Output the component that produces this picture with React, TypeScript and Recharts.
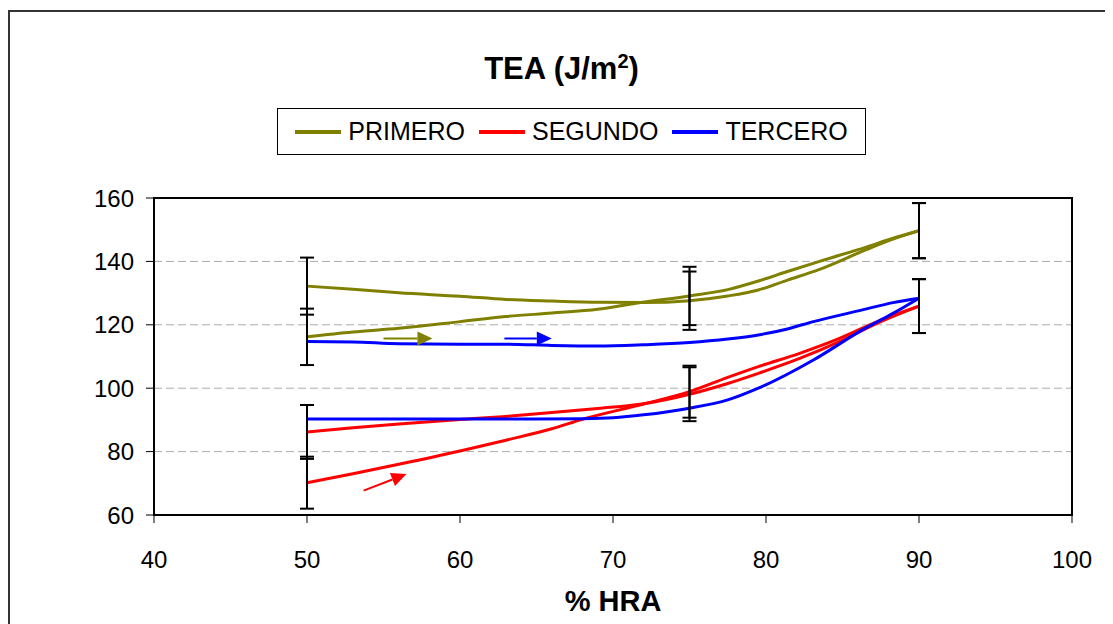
import React from 'react';
import {
  LineChart,
  Line,
  XAxis,
  YAxis,
  CartesianGrid,
  ErrorBar,
  ReferenceArea,
  ReferenceLine,
  Legend
} from 'recharts';

const FONT = '"Liberation Sans", Arial, Helvetica, sans-serif';

const seriesNames = ['PRIMERO', 'SEGUNDO', 'TERCERO'];
const seriesColors = ['#808000', '#ff0000', '#0000ff'];

const xTicks = [40, 50, 60, 70, 80, 90, 100];
const yTicks = [60, 80, 100, 120, 140, 160];

// HR values where the error bars sit
const errHR = [50, 75, 90];

// PRIMERO - branch starting low (arrow)
const primeroLowHR = [50, 53, 56, 60, 63, 66, 69, 71.5, 75, 77.5, 79.5, 81.4, 83.5, 86.6, 88.3, 90];
const primeroLowTEA = [116.2, 117.7, 118.9, 121.0, 122.6, 123.7, 124.9, 126.8, 129.1, 131.1, 133.8, 136.8, 140.0, 144.6, 147.3, 149.7];
const primeroLowErr = [8.9, 9.2, 8.7];

// PRIMERO - branch starting high
const primeroHighHR = [50, 53, 56, 60, 63, 66, 69.2, 72, 75, 77.5, 79.5, 81.4, 83.5, 86.6, 88.3, 90];
const primeroHighTEA = [132.2, 131.2, 130.1, 129.0, 128.0, 127.5, 127.1, 127.0, 127.6, 129.1, 131.0, 134.1, 137.5, 143.8, 147.0, 149.7];
const primeroHighErr = [9.0, 9.2, 8.7];

// SEGUNDO - branch starting low (arrow)
const segundoLowHR = [50, 53, 56, 60, 63, 66, 68, 72, 75, 77.5, 79.5, 82.2, 84.8, 87.5, 90];
const segundoLowTEA = [70.2, 73.0, 76.0, 80.2, 83.6, 87.2, 90.2, 95.0, 98.9, 103.4, 106.8, 111.0, 115.7, 121.5, 125.9];
const segundoLowErr = [8.2, 8.2, 8.5];

// SEGUNDO - branch starting high
const segundoHighHR = [50, 53, 56, 60, 63, 66, 69, 72, 75, 77.5, 79.5, 82.2, 84.8, 87.5, 90];
const segundoHighTEA = [86.2, 87.5, 88.7, 90.1, 91.1, 92.3, 93.6, 95.1, 98.1, 101.5, 104.7, 109.4, 114.7, 121.0, 125.9];
const segundoHighErr = [8.5, 8.5, 8.5];

// TERCERO - upper branch (arrow)
const terceroHighHR = [50, 53, 56, 60, 63, 66, 69, 72, 75, 77.5, 79.5, 81.4, 83.1, 86.3, 88.3, 90];
const terceroHighTEA = [114.7, 114.6, 114.0, 113.9, 113.9, 113.5, 113.3, 113.7, 114.4, 115.5, 116.8, 118.7, 121.0, 124.7, 127.0, 128.4];

// TERCERO - lower branch
const terceroLowHR = [50, 55, 60, 65, 68, 70, 72, 75, 77.5, 79.5, 83.1, 86.3, 88.3, 90];
const terceroLowTEA = [90.3, 90.3, 90.3, 90.3, 90.4, 90.7, 91.6, 93.7, 96.3, 100.0, 108.9, 118.4, 123.6, 128.4];

// direction arrows [x, y] in data units
const arrowFrom = [[55.0, 115.7], [53.7, 67.7], [62.9, 115.7]];
const arrowTo = [[58.2, 115.7], [56.5, 72.9], [66.0, 115.7]];

const toPoints = (hr: number[], tea: number[], err?: number[]) =>
  hr.map((x, i) => {
    const k = err ? errHR.indexOf(x) : -1;
    return { x, y: tea[i], err: k >= 0 && err ? err[k] : null };
  });

const branches = [
  { key: 'p-low', color: seriesColors[0], name: seriesNames[0], data: toPoints(primeroLowHR, primeroLowTEA, primeroLowErr) },
  { key: 'p-high', color: seriesColors[0], name: '', data: toPoints(primeroHighHR, primeroHighTEA, primeroHighErr) },
  { key: 's-low', color: seriesColors[1], name: seriesNames[1], data: toPoints(segundoLowHR, segundoLowTEA, segundoLowErr) },
  { key: 's-high', color: seriesColors[1], name: '', data: toPoints(segundoHighHR, segundoHighTEA, segundoHighErr) },
  { key: 't-high', color: seriesColors[2], name: seriesNames[2], data: toPoints(terceroHighHR, terceroHighTEA) },
  { key: 't-low', color: seriesColors[2], name: '', data: toPoints(terceroLowHR, terceroLowTEA) }
];

const ArrowShape = (p: any) => {
  const { x1, y1, x2, y2, stroke } = p;
  const dx = x2 - x1;
  const dy = y2 - y1;
  const len = Math.hypot(dx, dy) || 1;
  const ux = dx / len;
  const uy = dy / len;
  const hl = 15;
  const hw = 7;
  const bx = x2 - ux * hl;
  const by = y2 - uy * hl;
  return (
    <g>
      <line x1={x1} y1={y1} x2={bx} y2={by} stroke={stroke} strokeWidth={2} />
      <polygon
        points={`${x2},${y2} ${bx - uy * hw},${by + ux * hw} ${bx + uy * hw},${by - ux * hw}`}
        fill={stroke}
      />
    </g>
  );
};

const LegendBox = () => (
  <div
    style={{
      boxSizing: 'border-box',
      width: 589,
      height: 47,
      border: '1px solid #000',
      display: 'flex',
      alignItems: 'center',
      justifyContent: 'center',
      fontFamily: FONT,
      fontSize: 25,
      background: '#fff'
    }}
  >
    {seriesNames.map((n, i) => (
      <div key={n} style={{ display: 'flex', alignItems: 'center', marginLeft: i === 0 ? 0 : 14 }}>
        <div style={{ width: 46, height: 4, background: seriesColors[i], marginRight: 7 }} />
        <span>{n}</span>
      </div>
    ))}
  </div>
);

const App = () => {
  const tick = { fill: '#000', fontSize: 24, fontFamily: FONT };
  return (
    <div
      style={{
        position: 'relative',
        marginTop: 2,
        width: 1095,
        height: 612,
        borderLeft: '2px solid #333',
        borderTop: '2px solid #333',
        fontFamily: FONT,
        background: '#fff'
      }}
    >
      <style>{'html, body { overflow: hidden; }'}</style>
      <div
        style={{
          position: 'absolute',
          top: 34,
          left: 0,
          width: 1103,
          textAlign: 'center',
          fontWeight: 'bold',
          fontSize: 31,
          lineHeight: '31px',
          zIndex: 2
        }}
      >
        TEA (J/m<sup style={{ fontSize: 20 }}>2</sup>)
      </div>
      <LineChart width={1095} height={612} margin={{ top: 139, right: 33, bottom: 49, left: 44 }}>
        <CartesianGrid vertical={false} strokeDasharray="8 4" stroke="#aaa" />
        <XAxis
          type="number"
          dataKey="x"
          domain={[40, 100]}
          ticks={xTicks}
          allowDataOverflow
          height={60}
          tickSize={8}
          tickMargin={28}
          tick={tick}
          axisLine={{ stroke: '#000', strokeWidth: 2 }}
          tickLine={{ stroke: '#000' }}
          label={{
            value: '% HRA',
            position: 'bottom',
            offset: 15,
            style: { fontWeight: 'bold', fontSize: 29, fill: '#000', fontFamily: FONT }
          }}
        />
        <YAxis
          type="number"
          domain={[60, 160]}
          ticks={yTicks}
          allowDataOverflow
          width={100}
          tickSize={8}
          tickMargin={12}
          tick={tick}
          axisLine={{ stroke: '#000', strokeWidth: 2 }}
          tickLine={{ stroke: '#000' }}
        />
        <ReferenceArea x1={40} x2={100} y1={60} y2={160} fill="none" stroke="#000" strokeWidth={2} />
        <Legend
          verticalAlign="top"
          wrapperStyle={{ top: 96, left: 267, width: 589, height: 47 }}
          content={() => <LegendBox />}
        />
        {branches.map((b) => (
          <Line
            key={b.key}
            data={b.data}
            dataKey="y"
            name={b.name || b.key}
            type="monotone"
            stroke={b.color}
            strokeWidth={3}
            dot={false}
            activeDot={false}
            legendType={b.name ? 'line' : 'none'}
            isAnimationActive={false}
          />
        ))}
        {branches
          .filter((b) => b.data.some((d) => d.err != null))
          .map((b) => (
            <Line
              key={b.key + '-err'}
              data={b.data}
              dataKey="y"
              name={b.key + '-err'}
              stroke="transparent"
              dot={false}
              activeDot={false}
              legendType="none"
              isAnimationActive={false}
            >
              <ErrorBar dataKey="err" direction="y" width={7} stroke="#000" strokeWidth={2} isAnimationActive={false} />
            </Line>
          ))}
        {arrowFrom.map((f, i) => (
          <ReferenceLine
            key={'arrow' + i}
            segment={[
              { x: f[0], y: f[1] },
              { x: arrowTo[i][0], y: arrowTo[i][1] }
            ]}
            stroke={seriesColors[i]}
            shape={ArrowShape}
          />
        ))}
      </LineChart>
    </div>
  );
};

export default App;
